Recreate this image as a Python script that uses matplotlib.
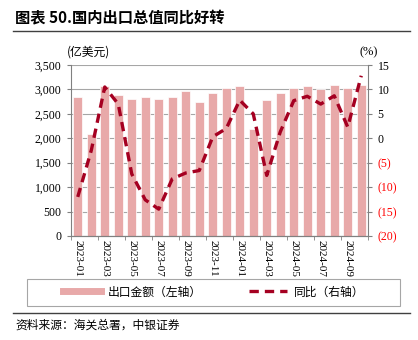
import matplotlib.pyplot as plt
from matplotlib.lines import Line2D
from matplotlib.patches import Rectangle
from matplotlib.ticker import FuncFormatter

months = ['2023-01', '2023-02', '2023-03', '2023-04', '2023-05', '2023-06',
          '2023-07', '2023-08', '2023-09', '2023-10', '2023-11', '2023-12',
          '2024-01', '2024-02', '2024-03', '2024-04', '2024-05', '2024-06',
          '2024-07', '2024-08', '2024-09', '2024-10']
export_value = [2845, 2090, 3070, 2885, 2810, 2840, 2810, 2840, 2965, 2745, 2925,
                3035, 3070, 2200, 2790, 2920, 3020, 3075, 3005, 3090, 3035, 3095]
yoy = [-12.0, -2.5, 10.5, 7.0, -7.3, -12.6, -14.5, -8.3, -7.1, -6.6, 0.3,
       2.0, 7.8, 5.0, -7.6, 1.3, 7.7, 8.6, 7.0, 8.7, 2.3, 12.8]

left_ticks = [0, 500, 1000, 1500, 2000, 2500, 3000, 3500]
right_ticks = [-20, -15, -10, -5, 0, 5, 10, 15]

bar_color = '#E8A9A9'
line_color = '#A50021'
num_font = 'Liberation Serif'
cjk = ['Noto Sans CJK SC', 'DejaVu Sans']

fig = plt.figure(figsize=(4.18, 3.4), dpi=100)
ax = fig.add_axes([71/418, 1-236/340, 297/418, 171/340])
x = list(range(len(months)))

ax.bar(x, export_value, width=0.68, color=bar_color, edgecolor='white',
       linewidth=0.5, zorder=2)
ax.set_ylim(0, 3500)
ax.set_xlim(-0.5, len(months) - 0.5)
ax.set_yticks(left_ticks)
ax.yaxis.set_major_formatter(FuncFormatter(lambda v, p: '{:,.0f}'.format(v)))
ax.grid(axis='y', color='#A6A6A6', linewidth=0.8, zorder=0)
ax.set_axisbelow(True)

ax2 = ax.twinx()
ax2.plot(x, yoy, color=line_color, linewidth=2.4, dashes=(2.8, 1.8), zorder=3)
ax2.set_ylim(-20, 15)
ax2.set_yticks(right_ticks)
ax2.yaxis.set_major_formatter(
    FuncFormatter(lambda v, p: '({:.0f})'.format(-v) if v < 0 else '{:.0f}'.format(v)))

for a in (ax, ax2):
    a.spines['top'].set_visible(False)
    for s in ('left', 'right', 'bottom'):
        a.spines[s].set_color('#808080')
        a.spines[s].set_linewidth(0.8)
ax2.spines['left'].set_visible(False)
ax.spines['right'].set_visible(False)

ax.tick_params(axis='y', length=3, color='#808080', pad=4, labelsize=8.5)
ax2.tick_params(axis='y', length=3, color='#808080', pad=4, labelsize=8.5)
for lab in ax.get_yticklabels():
    lab.set_fontfamily(num_font)
for lab, v in zip(ax2.get_yticklabels(), right_ticks):
    lab.set_fontfamily(num_font)
    lab.set_color('#FF0000' if v < 0 else 'black')

ax.set_xticks(x[::2])
ax.set_xticklabels(months[::2], rotation=-90, fontfamily=num_font, fontsize=8)
ax.set_xticks([i - 0.5 for i in range(0, len(months) + 1, 2)], minor=True)
ax.tick_params(axis='x', which='major', length=0, pad=3)
ax.tick_params(axis='x', which='minor', length=3, color='#808080')

fig.text(67/418, 1-52/340, '(亿美元)', family=cjk, fontsize=8.5, va='center')
fig.text(360/418, 1-52/340, '(%)', family=num_font, fontsize=9, va='center')

fig.text(15/418, 1-18/340, '图表 50.国内出口总值同比好转', family=cjk,
         fontsize=11, fontweight='bold', va='center')
fig.add_artist(Line2D([13/418, 410/418], [1-31/340, 1-31/340],
                      color='#404040', linewidth=1.0))
fig.add_artist(Line2D([13/418, 410/418], [1-313/340, 1-313/340],
                      color='#404040', linewidth=1.0))
fig.text(15/418, 1-325/340, '资料来源：海关总署，中银证券', family=cjk,
         fontsize=8.5, style='italic', va='center')

fig.add_artist(Rectangle((27/418, 1-306/340), 373/418, 27/340, fill=False,
                         edgecolor='#A6A6A6', linewidth=0.8))
handles = [Line2D([], [], color=bar_color, linewidth=5),
           Line2D([], [], color=line_color, linewidth=2.4, dashes=(2.8, 1.8))]
fig.legend(handles, ['出口金额（左轴）', '同比（右轴）'], loc='center',
           bbox_to_anchor=(214/418, 1-292/340), ncol=2, frameon=False,
           prop={'family': cjk, 'size': 8.5}, handlelength=3.2,
           columnspacing=4.0, handletextpad=0.6)

fig.savefig('out.png', dpi=100)
